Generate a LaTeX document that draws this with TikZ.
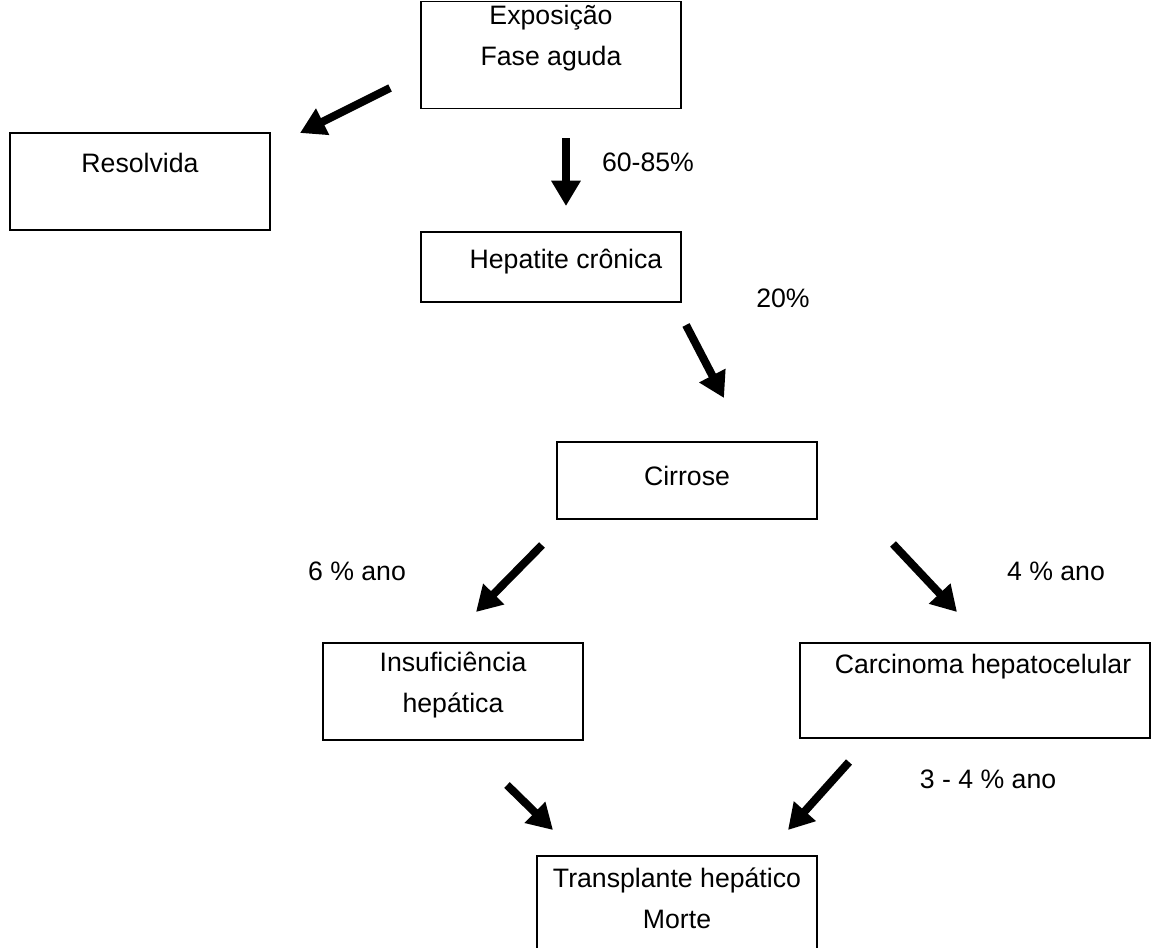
\documentclass[tikz,border=0pt]{standalone}
\usepackage{fontspec}
\setmainfont{Liberation Sans}
\usetikzlibrary{arrows.meta}
\begin{document}
\begin{tikzpicture}[x=0.75pt,y=-0.75pt,
  box/.style={draw=black,line width=1.3pt,inner sep=0pt,rectangle},
  txt/.style={font=\fontsize{20}{31}\selectfont,align=center,inner sep=0pt},
  big/.style={line width=6pt,-{Triangle[length=19pt,width=21pt]}}]
\clip (0,0) rectangle (1154,947);
\useasboundingbox (0,0) rectangle (1154,947);
% boxes
\node[box,minimum width=195pt,minimum height=80.25pt] (expo) at (551,55) {};
\node[txt] (expot) at (551,38) {Exposição\\Fase aguda};
\node[box,minimum width=195pt,minimum height=72.75pt] (res) at (140,181.5) {};
\node[txt] (rest) at (140,163) {Resolvida};
\node[box,minimum width=195pt,minimum height=52.5pt] (hep) at (551,267) {};
\node[txt] (hept) at (566,262) {Hepatite crônica};
\node[box,minimum width=195pt,minimum height=57.75pt] (cir) at (687,480.5) {};
\node[txt] (cirt) at (687,476) {Cirrose};
\node[box,minimum width=195pt,minimum height=72.75pt] (ins) at (453,691.5) {};
\node[txt] (inst) at (453,685) {Insuficiência\\hepática};
\node[box,minimum width=262.5pt,minimum height=71.25pt] (car) at (975,690.5) {};
\node[txt] (cart) at (983,667) {Carcinoma hepatocelular};
\node[box,minimum width=210pt,minimum height=93pt] (tra) at (677,918) {};
\node[txt] (trat) at (677,898) {Transplante hepático\\Morte};
% labels
\node[txt] (l1) at (648,162) {60-85\%};
\node[txt] (l2) at (783,298) {20\%};
\node[txt] (l3) at (357,571) {6 \% ano};
\node[txt] (l4) at (1056,571) {4 \% ano};
\node[txt] (l5) at (988,779) {3 - 4 \% ano};
% arrows
\coordinate (a1s) at (390,88); \coordinate (a1e) at (300,133);
\coordinate (a2s) at (566,138); \coordinate (a2e) at (566,206);
\coordinate (a3s) at (686,325); \coordinate (a3e) at (724,398);
\coordinate (a4s) at (542,545); \coordinate (a4e) at (476,612);
\coordinate (a5s) at (893,544); \coordinate (a5e) at (957,612);
\coordinate (a6s) at (507,785); \coordinate (a6e) at (553,830);
\coordinate (a7s) at (849,762); \coordinate (a7e) at (788,830);
\draw[big] (a1s) -- (a1e);
\draw[big] (a2s) -- (a2e);
\draw[big] (a3s) -- (a3e);
\draw[big] (a4s) -- (a4e);
\draw[big] (a5s) -- (a5e);
\draw[big] (a6s) -- (a6e);
\draw[big] (a7s) -- (a7e);
\end{tikzpicture}
\end{document}
